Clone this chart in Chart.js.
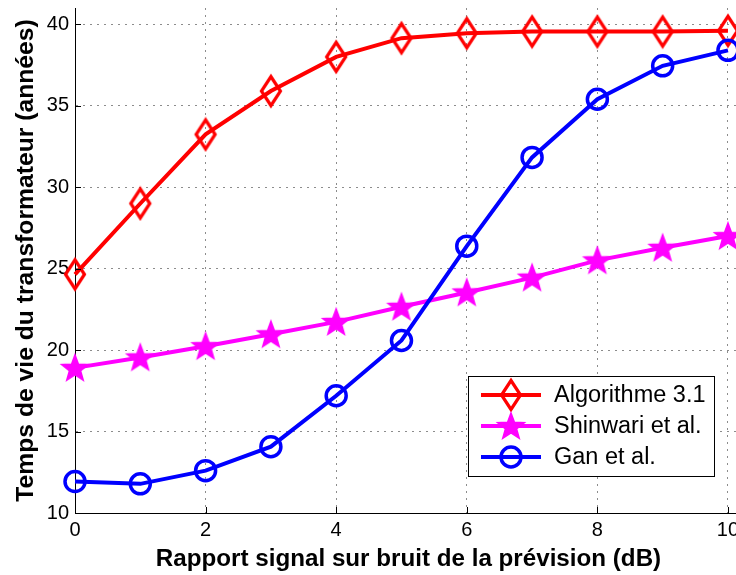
<!DOCTYPE html>
<html>
<head>
<meta charset="utf-8">
<script src="https://cdn.jsdelivr.net/npm/chart.js@4.4.1/dist/chart.umd.min.js"></script>
<style>
  html, body { margin: 0; padding: 0; background: #fff; overflow: hidden; }
  #wrap { width: 760px; height: 585px; margin-top: -10px; }
</style>
</head>
<body>
<div id="wrap"><canvas id="chart" width="760" height="585"></canvas></div>
<script>
// données
const snr = [0, 1, 2, 3, 4, 5, 6, 7, 8, 9, 10];
const algo31 = [24.65, 29.0, 33.24, 35.9, 38.0, 39.15, 39.45, 39.55, 39.55, 39.55, 39.6];
const shinwari = [18.91, 19.55, 20.24, 20.97, 21.73, 22.66, 23.54, 24.45, 25.51, 26.28, 27.0];
const gan = [11.93, 11.79, 12.6, 14.07, 17.2, 20.59, 26.38, 31.83, 35.4, 37.45, 38.4];
const seriesNames = ['Algorithme 3.1', 'Shinwari et al.', 'Gan et al.'];
const xTicks = [0, 2, 4, 6, 8, 10];
const yTicks = [10, 15, 20, 25, 30, 35, 40];

const FONT = '"Liberation Sans", Arial, Helvetica, sans-serif';

// marqueurs style MATLAB
function diamondMarker(color) {
  const c = document.createElement('canvas');
  c.width = 26; c.height = 36;
  const g = c.getContext('2d');
  g.strokeStyle = color; g.lineWidth = 3.2; g.lineJoin = 'miter';
  g.beginPath();
  g.moveTo(13, 3.5); g.lineTo(22.5, 18); g.lineTo(13, 32.5); g.lineTo(3.5, 18);
  g.closePath(); g.stroke();
  return c;
}
function starMarker(color) {
  const c = document.createElement('canvas');
  c.width = 32; c.height = 32;
  const g = c.getContext('2d');
  g.fillStyle = color; g.strokeStyle = color; g.lineWidth = 1.5;
  g.beginPath();
  for (let i = 0; i < 10; i++) {
    const r = i % 2 === 0 ? 14 : 5.8;
    const a = -Math.PI / 2 + i * Math.PI / 5;
    const px = 16 + r * Math.cos(a), py = 17 + r * Math.sin(a);
    if (i === 0) g.moveTo(px, py); else g.lineTo(px, py);
  }
  g.closePath(); g.fill(); g.stroke();
  return c;
}

const redDiamond = diamondMarker('#ff0000');
const magStar = starMarker('#ff00ff');

function toPoints(ys) {
  return snr.map((x, i) => ({ x: x, y: ys[i] }));
}

// légende dessinée dans le cadre, comme sous MATLAB (canvas décalé de 10px vers le haut)
const legendBox = {
  id: 'legendBox',
  afterDraw(chart) {
    const ctx = chart.ctx;
    const off = 10;
    const bx = 468, by = 376 + off, bw = 246, bh = 100;
    ctx.save();
    ctx.fillStyle = '#fff';
    ctx.fillRect(bx, by, bw, bh);
    ctx.strokeStyle = '#000';
    ctx.lineWidth = 1;
    ctx.strokeRect(bx + 0.5, by + 0.5, bw, bh);
    chart.data.datasets.forEach((ds, i) => {
      const y = 395 + off + i * 31;
      ctx.strokeStyle = ds.borderColor;
      ctx.lineWidth = 4;
      ctx.beginPath(); ctx.moveTo(481, y); ctx.lineTo(541, y); ctx.stroke();
      const ps = ds.pointStyle;
      if (ps === 'circle') {
        ctx.lineWidth = 3.5;
        ctx.beginPath(); ctx.arc(511, y, 10, 0, Math.PI * 2); ctx.stroke();
      } else {
        ctx.drawImage(ps, 511 - ps.width / 2, y - ps.height / 2);
      }
      ctx.fillStyle = '#000';
      ctx.font = '23.5px ' + FONT;
      ctx.textBaseline = 'middle';
      ctx.textAlign = 'left';
      ctx.fillText(ds.label, 554, y + 1);
    });
    ctx.restore();
  }
};

// petites graduations vers l'intérieur
const innerTicks = {
  id: 'innerTicks',
  afterDatasetsDraw(chart) {
    const ctx = chart.ctx;
    const xs = chart.scales.x, ys = chart.scales.y;
    const a = chart.chartArea;
    ctx.save();
    ctx.strokeStyle = '#000';
    ctx.lineWidth = 1;
    xTicks.forEach(v => {
      const px = Math.round(xs.getPixelForValue(v)) + 0.5;
      ctx.beginPath(); ctx.moveTo(px, a.bottom); ctx.lineTo(px, a.bottom - 6); ctx.stroke();
    });
    yTicks.forEach(v => {
      const py = Math.round(ys.getPixelForValue(v)) + 0.5;
      ctx.beginPath(); ctx.moveTo(a.left, py); ctx.lineTo(a.left + 6, py); ctx.stroke();
    });
    ctx.restore();
  }
};

const ctx = document.getElementById('chart').getContext('2d');
new Chart(ctx, {
  type: 'line',
  data: {
    datasets: [
      {
        label: seriesNames[0],
        data: toPoints(algo31),
        borderColor: '#ff0000',
        borderWidth: 4,
        pointStyle: redDiamond,
        pointRadius: 12,
        order: 3
      },
      {
        label: seriesNames[1],
        data: toPoints(shinwari),
        borderColor: '#ff00ff',
        borderWidth: 4,
        pointStyle: magStar,
        pointRadius: 14,
        order: 2
      },
      {
        label: seriesNames[2],
        data: toPoints(gan),
        borderColor: '#0000ff',
        borderWidth: 4,
        pointStyle: 'circle',
        pointRadius: 10,
        pointBorderWidth: 3.5,
        pointBackgroundColor: 'rgba(0,0,0,0)',
        order: 1
      }
    ]
  },
  options: {
    responsive: false,
    animation: false,
    devicePixelRatio: 1,
    layout: { padding: { top: 6, right: 8, bottom: 0, left: 0 } },
    elements: { line: { tension: 0 } },
    datasets: { line: { clip: false } },
    plugins: {
      legend: { display: false },
      tooltip: { enabled: false }
    },
    scales: {
      x: {
        type: 'linear',
        min: 0,
        max: 10.215,
        afterBuildTicks: axis => { axis.ticks = xTicks.map(v => ({ value: v })); },
        afterFit: axis => { axis.height = 62; },
        ticks: {
          color: '#000',
          padding: 5,
          maxRotation: 0,
          font: { family: FONT, size: 20 }
        },
        grid: {
          color: '#8c8c8c',
          lineWidth: 1,
          drawTicks: false
        },
        border: { display: true, color: '#000', width: 1, dash: [2, 5] },
        title: {
          display: true,
          text: 'Rapport signal sur bruit de la prévision (dB)',
          color: '#000',
          font: { family: FONT, size: 24.2, weight: 'bold', lineHeight: 1.2 },
          padding: { top: 0, bottom: 1 }
        }
      },
      y: {
        type: 'linear',
        min: 10,
        max: 41,
        afterBuildTicks: axis => { axis.ticks = yTicks.map(v => ({ value: v })); },
        afterFit: axis => { axis.width = 75; },
        ticks: {
          color: '#000',
          padding: 6,
          font: { family: FONT, size: 20 }
        },
        grid: {
          color: '#8c8c8c',
          lineWidth: 1,
          drawTicks: false
        },
        border: { display: true, color: '#000', width: 1, dash: [2, 5] },
        title: {
          display: true,
          text: 'Temps de vie du transformateur (années)',
          color: '#000',
          font: { family: FONT, size: 24.7, weight: 'bold', lineHeight: 1.2 },
          padding: { top: 11.5, bottom: 0 }
        }
      }
    }
  },
  plugins: [innerTicks, legendBox]
});
</script>
</body>
</html>
